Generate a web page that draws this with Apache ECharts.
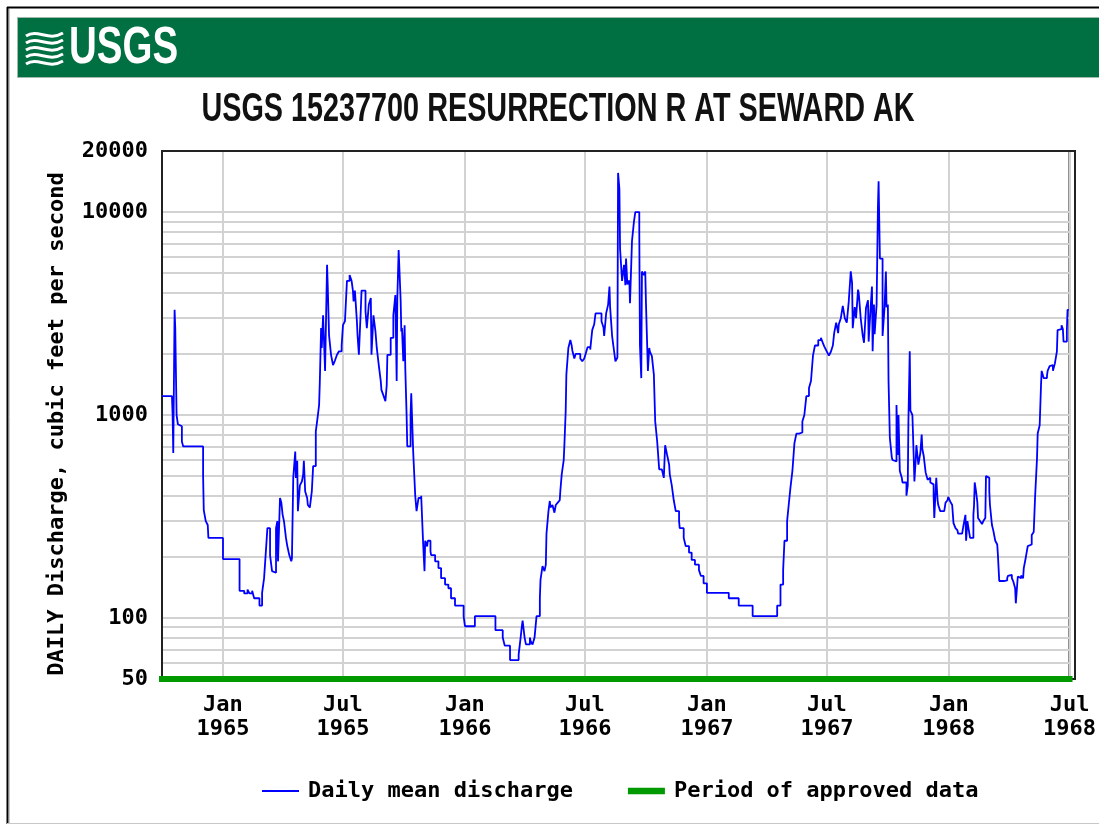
<!DOCTYPE html>
<html>
<head>
<meta charset="utf-8">
<script src="https://cdn.jsdelivr.net/npm/echarts@6/dist/echarts.min.js"></script>
<style>
html,body{margin:0;padding:0;background:#fff;}
#chart{width:1099px;height:825px;}
</style>
</head>
<body>
<div id="chart"></div>
<script>
// ---------- text ----------
const chartTitle = 'USGS 15237700 RESURRECTION R AT SEWARD AK';
const logoText = 'USGS';
const yAxisName = 'DAILY Discharge, cubic feet per second';
const seriesNames = ['Daily mean discharge', 'Period of approved data'];

// ---------- axes ----------
const xRange = ['1964-10-01', '1968-07-01'];
const xTickDates = ['1965-01-01','1965-07-01','1966-01-01','1966-07-01','1967-01-01','1967-07-01','1968-01-01','1968-07-01'];
const monthLabels = {0: 'Jan', 6: 'Jul'};
const yRange = [50, 20000];
const yTickLabels = [50, 100, 1000, 10000, 20000];
const yGridValues = [50,60,70,80,90,100,200,300,400,500,600,700,800,900,1000,2000,3000,4000,5000,6000,7000,8000,9000,10000,20000];

// ---------- approved period ----------
const approvedPeriod = ['1964-10-01', '1968-07-01'];
const approvedLevel = 50;

// ---------- daily mean discharge (cfs) ----------
const wy1965 = [['1964-10-01',1240],['1964-10-16',1240],['1964-10-17',1000],['1964-10-18',650],['1964-10-20',3300],['1964-10-21',2680],['1964-10-23',1000],['1964-10-25',900],['1964-10-28',880],['1964-10-31',740],['1964-11-02',700],['1964-12-02',500],['1964-12-03',340],['1964-12-06',300],['1964-12-09',287],['1964-12-10',248],['1965-01-01',195],['1965-01-26',136],['1965-02-02',132],['1965-02-07',138],['1965-02-10',132],['1965-02-14',136],['1965-02-17',125],['1965-02-25',115],['1965-03-01',133],['1965-03-04',157],['1965-03-07',220],['1965-03-09',277],['1965-03-13',204],['1965-03-16',170],['1965-03-19',167],['1965-03-22',277],['1965-03-24',300],['1965-03-25',190],['1965-03-28',390],['1965-03-30',370],['1965-04-01',322],['1965-04-03',300],['1965-04-06',248],['1965-04-08',226],['1965-04-11',204],['1965-04-14',190],['1965-04-15',196],['1965-04-17',490],['1965-04-20',660],['1965-04-21',490],['1965-04-23',595],['1965-04-24',336],['1965-04-27',450],['1965-04-30',470],['1965-05-02',510],['1965-05-03',595],['1965-05-05',420],['1965-05-08',390],['1965-05-09',360],['1965-05-12',350],['1965-05-15',420],['1965-05-17',560],['1965-05-21',830],['1965-05-23',930],['1965-05-26',1120],['1965-05-27',1430],['1965-05-29',2680],['1965-05-30',2140],['1965-06-01',3100],['1965-06-04',1650],['1965-06-07',5500],['1965-06-08',4360],['1965-06-10',2470],['1965-06-13',1980],['1965-06-16',1760],['1965-06-19',1860],['1965-06-22',1980],['1965-06-25',2060],['1965-06-29',2200],['1965-07-01',2770],['1965-07-04',2900],['1965-07-07',4580],['1965-07-11',4900],['1965-07-14',4580],['1965-07-16',4100],['1965-07-17',3630],['1965-07-19',4100],['1965-07-22',2900],['1965-07-23',2470],['1965-07-25',1980],['1965-07-28',3370],['1965-07-29',4100],['1965-08-04',3250],['1965-08-06',2680],['1965-08-09',3500],['1965-08-12',3770],['1965-08-13',1980],['1965-08-16',3100],['1965-08-19',2580],['1965-08-21',2140],['1965-08-24',1760],['1965-08-27',1470],['1965-08-28',1330],['1965-08-31',1250],['1965-09-03',1170],['1965-09-05',1400],['1965-09-06',1980],['1965-09-11',2400],['1965-09-15',3100],['1965-09-18',3900],['1965-09-20',1470],['1965-09-21',3770],['1965-09-23',6500],['1965-09-26',3680],['1965-09-27',2580],['1965-09-28',2680],['1965-09-30',1840]];

const wy1966 = [['1965-10-02',2770],['1965-10-03',1700],['1965-10-05',1000],['1965-10-06',700],['1965-10-11',1000],['1965-10-12',1280],['1965-10-15',650],['1965-10-18',400],['1965-10-20',336],['1965-10-23',390],['1965-10-27',400],['1965-10-30',230],['1965-11-01',170],['1965-11-02',240],['1965-11-05',225],['1965-11-06',240],['1965-11-10',213],['1965-11-11',204],['1965-11-17',190],['1965-11-22',176],['1965-11-26',157],['1965-12-02',146],['1965-12-07',140],['1965-12-11',125],['1965-12-17',115],['1965-12-30',102],['1966-01-01',91],['1966-01-16',102],['1966-02-16',87],['1966-02-27',80],['1966-03-02',73],['1966-03-10',62],['1966-03-23',66],['1966-03-26',80],['1966-03-28',92],['1966-03-29',97],['1966-04-01',80],['1966-04-03',74],['1966-04-09',80],['1966-04-10',77],['1966-04-13',74],['1966-04-16',80],['1966-04-19',102],['1966-04-24',125],['1966-04-25',154],['1966-04-28',180],['1966-05-01',170],['1966-05-03',183],['1966-05-04',260],['1966-05-07',336],['1966-05-09',377],['1966-05-10',350],['1966-05-13',360],['1966-05-16',330],['1966-05-18',360],['1966-05-21',370],['1966-05-24',380],['1966-05-25',427],['1966-05-27',510],['1966-05-30',600],['1966-05-31',710],['1966-06-02',1050],['1966-06-03',1580],['1966-06-06',2140],['1966-06-09',2340],['1966-06-11',2200],['1966-06-12',2080],['1966-06-15',1900],['1966-06-17',2000],['1966-06-24',1900],['1966-06-27',1840],['1966-06-30',1900],['1966-07-02',2000],['1966-07-05',2160],['1966-07-09',2100],['1966-07-12',2620],['1966-07-15',2800],['1966-07-17',3170],['1966-07-26',2900],['1966-07-29',2700],['1966-07-30',2450],['1966-08-02',3170],['1966-08-05',3500],['1966-08-07',4300],['1966-08-08',3400],['1966-08-11',2450],['1966-08-14',2060],['1966-08-16',1840],['1966-08-19',1920],['1966-08-20',15600],['1966-08-22',13000],['1966-08-23',6600],['1966-08-26',4580],['1966-08-29',5500],['1966-08-31',4360],['1966-09-01',5900],['1966-09-03',4400],['1966-09-06',4600],['1966-09-07',3560],['1966-09-10',7200],['1966-09-13',9000],['1966-09-15',10000],['1966-09-21',8000],['1966-09-22',2200],['1966-09-24',1520],['1966-09-25',5100],['1966-09-28',4900],['1966-09-30',5100]];

const wy1967 = [['1966-10-01',3630],['1966-10-04',1650],['1966-10-06',2140],['1966-10-07',2050],['1966-10-10',1950],['1966-10-13',1580],['1966-10-15',930],['1966-10-18',740],['1966-10-21',540],['1966-10-25',530],['1966-10-28',490],['1966-10-30',710],['1966-11-02',635],['1966-11-05',570],['1966-11-06',510],['1966-11-09',450],['1966-11-12',380],['1966-11-15',336],['1966-11-20',300],['1966-11-21',277],['1966-11-27',248],['1966-11-30',226],['1966-12-05',210],['1966-12-09',193],['1966-12-14',183],['1966-12-20',172],['1966-12-23',161],['1966-12-27',148],['1967-01-01',133],['1967-02-03',125],['1967-02-18',115],['1967-03-11',102],['1967-04-17',115],['1967-04-22',146],['1967-04-26',172],['1967-04-28',240],['1967-05-02',300],['1967-05-05',377],['1967-05-07',437],['1967-05-10',530],['1967-05-13',725],['1967-05-16',810],['1967-05-20',820],['1967-05-25',930],['1967-05-28',1000],['1967-05-31',1240],['1967-06-04',1360],['1967-06-07',1470],['1967-06-10',1960],['1967-06-13',2200],['1967-06-18',2340],['1967-06-22',2400],['1967-06-25',2260],['1967-06-27',2180],['1967-06-30',2080],['1967-07-03',2050],['1967-07-04',1960],['1967-07-07',2050],['1967-07-10',2200],['1967-07-12',2530],['1967-07-15',2850],['1967-07-18',2530],['1967-07-19',2800],['1967-07-22',3000],['1967-07-25',3450],['1967-07-26',3500],['1967-07-28',3000],['1967-07-31',2850],['1967-08-02',2800],['1967-08-03',3630],['1967-08-06',5100],['1967-08-08',4470],['1967-08-09',2680],['1967-08-12',3400],['1967-08-14',3000],['1967-08-17',4150],['1967-08-18',4000],['1967-08-21',3000],['1967-08-24',2470],['1967-08-26',2270],['1967-08-29',3370],['1967-09-01',3680],['1967-09-02',2300],['1967-09-05',3400],['1967-09-07',4300],['1967-09-08',2060],['1967-09-10',3500],['1967-09-11',2500],['1967-09-14',3500],['1967-09-16',10600],['1967-09-17',14200],['1967-09-19',5900],['1967-09-23',2450],['1967-09-26',3400],['1967-09-28',5100],['1967-09-29',3400]];

const wy1968 = [['1967-10-01',3500],['1967-10-02',1470],['1967-10-04',770],['1967-10-07',615],['1967-10-08',600],['1967-10-11',590],['1967-10-14',1120],['1967-10-16',635],['1967-10-17',1000],['1967-10-19',530],['1967-10-22',490],['1967-10-23',465],['1967-10-29',400],['1967-10-31',450],['1967-11-01',945],['1967-11-03',2060],['1967-11-04',1050],['1967-11-07',1000],['1967-11-09',615],['1967-11-10',470],['1967-11-12',600],['1967-11-13',710],['1967-11-15',615],['1967-11-16',570],['1967-11-19',650],['1967-11-21',800],['1967-11-22',680],['1967-11-24',630],['1967-11-27',520],['1967-11-30',480],['1967-12-01',490],['1967-12-04',465],['1967-12-07',455],['1967-12-09',400],['1967-12-10',311],['1967-12-13',490],['1967-12-15',380],['1967-12-16',360],['1967-12-19',336],['1967-12-25',330],['1967-12-27',370],['1967-12-30',380],['1967-12-31',395],['1968-01-03',375],['1968-01-06',360],['1968-01-08',293],['1968-01-11',277],['1968-01-14',270],['1968-01-15',260],['1968-01-21',265],['1968-01-23',285],['1968-01-26',322],['1968-01-27',240],['1968-01-29',300],['1968-01-30',285],['1968-02-02',248],['1968-02-07',322],['1968-02-08',360],['1968-02-09',465],['1968-02-11',420],['1968-02-13',370],['1968-02-14',311],['1968-02-17',300],['1968-02-20',290],['1968-02-22',300],['1968-02-25',311],['1968-02-26',500],['1968-02-29',490],['1968-03-02',420],['1968-03-03',360],['1968-03-06',287],['1968-03-08',270],['1968-03-11',240],['1968-03-14',230],['1968-03-15',204],['1968-03-17',152],['1968-03-24',153],['1968-03-29',157],['1968-03-30',161],['1968-04-02',163],['1968-04-05',157],['1968-04-07',152],['1968-04-10',140],['1968-04-11',118],['1968-04-14',160],['1968-04-16',157],['1968-04-19',162],['1968-04-22',157],['1968-04-23',176],['1968-04-26',198],['1968-04-29',226],['1968-05-02',230],['1968-05-05',256],['1968-05-08',265],['1968-05-10',390],['1968-05-13',615],['1968-05-14',810],['1968-05-17',890],['1968-05-19',1400],['1968-05-20',1650],['1968-05-23',1520],['1968-05-28',1560],['1968-05-29',1650],['1968-06-01',1740],['1968-06-04',1760],['1968-06-06',1650],['1968-06-09',1800],['1968-06-12',2060],['1968-06-13',2620],['1968-06-16',2650],['1968-06-19',2770],['1968-06-21',2650],['1968-06-22',2300],['1968-06-25',2300],['1968-06-27',2600],['1968-06-28',3300],['1968-06-30',3300]];

// ---------- build ----------
function toTime(s) { const p = s.split('-').map(Number); return new Date(p[0], p[1] - 1, p[2]).getTime(); }
const dailyData = [].concat(wy1965, wy1966, wy1967, wy1968).map(d => [toTime(d[0]), d[1]]);
const approvedData = approvedPeriod.map(d => [toTime(d), approvedLevel]);
const xTicks = xTickDates.map(toTime);

const monoFont = '"DejaVu Sans Mono", "Liberation Mono", monospace';
const plot = {left: 162, top: 151, width: 913, height: 528};

function wave(y) {
  return {type: 'bezierCurve', shape: {x1: 0, y1: y + 3, cpx1: 12, cpy1: y - 5, cpx2: 22, cpy2: y + 9, x2: 37, y2: y},
          style: {stroke: '#ffffff', lineWidth: 3, fill: null}};
}

const chart = echarts.init(document.getElementById('chart'), null, {renderer: 'canvas'});
chart.setOption({
  backgroundColor: '#ffffff',
  animation: false,
  graphic: [
    {type: 'line', shape: {x1: 7.5, y1: 7, x2: 7.5, y2: 824}, style: {stroke: '#000', lineWidth: 2}},
    {type: 'line', shape: {x1: 7, y1: 7.5, x2: 1099, y2: 7.5}, style: {stroke: '#000', lineWidth: 2}},
    {type: 'line', shape: {x1: 9.5, y1: 9, x2: 9.5, y2: 824}, style: {stroke: '#c8c8c8', lineWidth: 1}},
    {type: 'line', shape: {x1: 7, y1: 823.5, x2: 1099, y2: 823.5}, style: {stroke: '#c8c8c8', lineWidth: 1}},
    {type: 'rect', shape: {x: 17.5, y: 17.5, width: 1100, height: 60}, style: {fill: '#006f41', stroke: '#9fb9aa', lineWidth: 1}},
    {type: 'group', x: 26, y: 31, children: [wave(2), wave(9), wave(16), wave(23), wave(30)]},
    {type: 'text', x: 69, y: 49, scaleX: 0.74, style: {text: logoText, font: 'bold 52px "Liberation Sans", Arial, sans-serif', fill: '#ffffff', align: 'left', verticalAlign: 'middle'}},
    {type: 'text', x: 558, y: 110, scaleX: 0.72, style: {text: chartTitle, font: 'bold 40px "Liberation Sans", Arial, sans-serif', fill: '#111', align: 'center', verticalAlign: 'middle'}},
    {type: 'rect', z: 1, shape: {x: plot.left, y: plot.top, width: plot.width, height: plot.height}, style: {fill: null, stroke: '#222', lineWidth: 2}}
  ],
  grid: Object.assign({show: true, borderColor: '#222', borderWidth: 2, backgroundColor: '#fff'}, plot),
  legend: {
    data: [
      {name: seriesNames[0], icon: 'path://M0,0H37V2H0Z'},
      {name: seriesNames[1], icon: 'path://M0,0H35V6H0Z'}
    ],
    left: 257, top: 775, itemWidth: 37, itemHeight: 14, itemGap: 55, symbolKeepAspect: true,
    textStyle: {fontFamily: monoFont, fontSize: 22, fontWeight: 'bold', color: '#000', padding: [0, 0, 0, 4]}
  },
  xAxis: {
    type: 'value', min: toTime(xRange[0]), max: toTime(xRange[1]),
    axisLine: {show: false},
    axisTick: {show: false, customValues: xTicks},
    splitLine: {show: true, lineStyle: {color: '#d2d2d2', width: 2}},
    axisLabel: {
      customValues: xTicks, margin: 14, lineHeight: 24,
      fontFamily: monoFont, fontSize: 22, fontWeight: 'bold', color: '#000',
      formatter: function (v) { const d = new Date(v); return monthLabels[d.getMonth()] + '\n' + d.getFullYear(); }
    }
  },
  yAxis: {
    type: 'log', logBase: 10, min: yRange[0], max: yRange[1],
    name: yAxisName, nameLocation: 'middle', nameGap: 94,
    nameTextStyle: {fontFamily: monoFont, fontSize: 22, fontWeight: 'bold', color: '#000', padding: [0, 18, 0, 0]},
    axisLine: {show: false},
    axisTick: {show: false, customValues: yGridValues},
    splitLine: {show: true, lineStyle: {color: '#d2d2d2', width: 2}},
    axisLabel: {customValues: yTickLabels, margin: 14, fontFamily: monoFont, fontSize: 22, fontWeight: 'bold', color: '#000', formatter: v => String(v)}
  },
  series: [
    {name: seriesNames[0], type: 'line', data: dailyData, step: 'end', symbol: 'none', showSymbol: false,
     lineStyle: {color: '#0000ff', width: 1.8}, itemStyle: {color: '#0000ff'}, z: 3},
    {name: seriesNames[1], type: 'line', data: approvedData, symbol: 'none', showSymbol: false, clip: false,
     lineStyle: {color: '#009900', width: 6, cap: 'square'}, itemStyle: {color: '#009900'}, z: 4}
  ]
});
</script>
</body>
</html>
